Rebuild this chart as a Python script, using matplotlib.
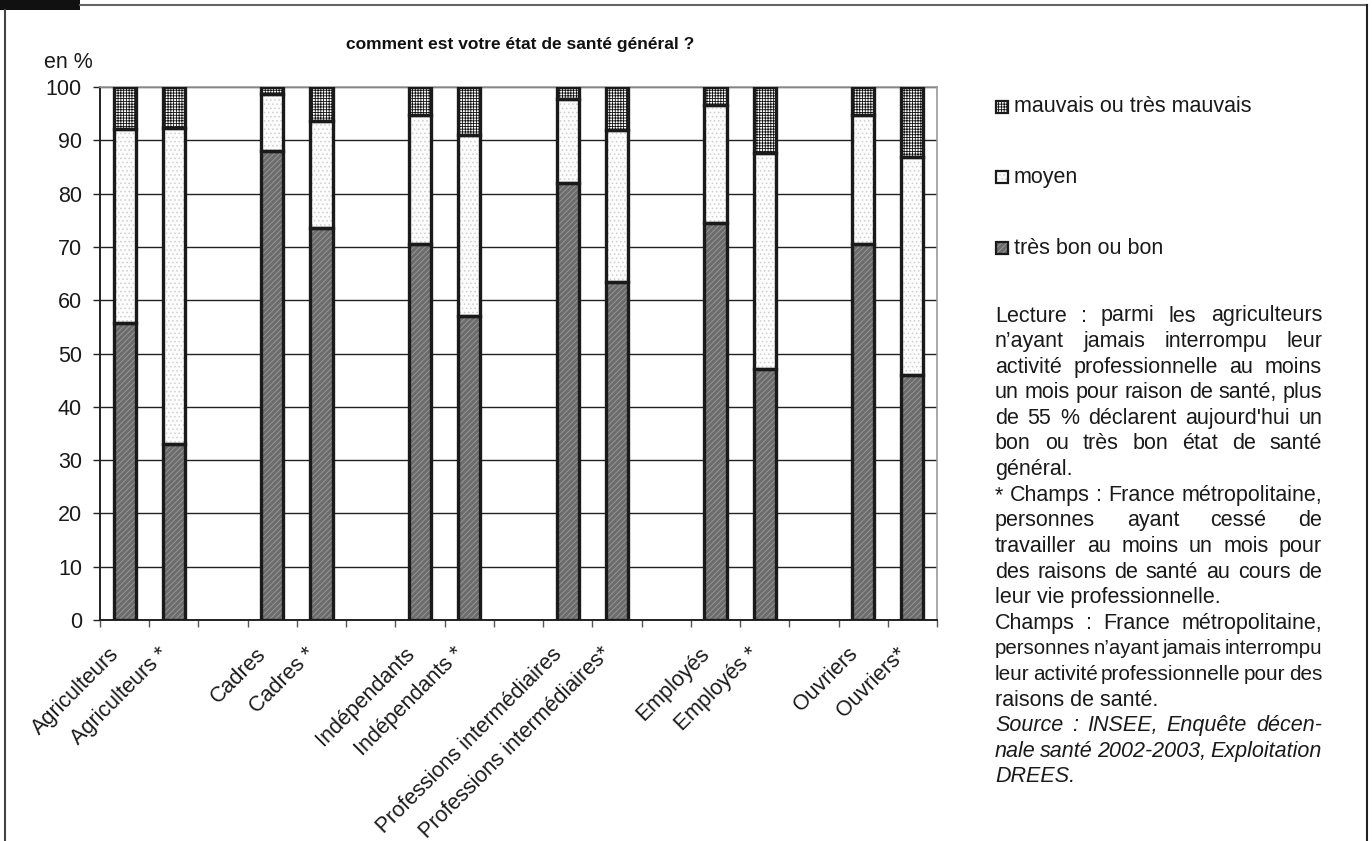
import matplotlib
matplotlib.use("Agg")
import matplotlib.pyplot as plt
from matplotlib.patches import Rectangle
from matplotlib.lines import Line2D
import matplotlib.transforms as mtransforms
import numpy as np

plt.rcParams['font.family'] = ['Liberation Sans', 'DejaVu Sans']

# ---- data -------------------------------------------------------------
categories = ["Agriculteurs", "Agriculteurs *", "Cadres", "Cadres *",
              "Indépendants", "Indépendants *", "Professions intermédiaires",
              "Professions intermédiaires*", "Employés", "Employés *",
              "Ouvriers", "Ouvriers*"]
tres_bon = [55.7, 33.0, 88.0, 73.5, 70.5, 57.0, 82.0, 63.5, 74.5, 47.0, 70.5, 46.0]
moyen = [36.5, 59.3, 10.6, 20.2, 24.2, 34.0, 15.7, 28.4, 22.1, 40.6, 24.2, 40.9]
mauvais = [7.8, 7.7, 1.4, 6.3, 5.3, 9.0, 2.3, 8.1, 3.4, 12.4, 5.3, 13.1]
yticks = [0, 10, 20, 30, 40, 50, 60, 70, 80, 90, 100]
legend_labels = ["mauvais ou très mauvais", "moyen", "très bon ou bon"]
title = "comment est votre état de santé général ?"

note_lines = [
    ("Lecture : parmi les agriculteurs", True, False),
    ("n’ayant jamais interrompu leur", True, False),
    ("activité professionnelle au moins", True, False),
    ("un mois pour raison de santé, plus", True, False),
    ("de 55 % déclarent aujourd'hui un", True, False),
    ("bon ou très bon état de santé", True, False),
    ("général.", False, False),
    ("* Champs :  France métropolitaine,", True, False),
    ("personnes ayant cessé de", True, False),
    ("travailler au moins un mois pour", True, False),
    ("des raisons de santé au cours de", True, False),
    ("leur vie professionnelle.", False, False),
    ("Champs : France métropolitaine,", True, False),
    ("personnes n’ayant jamais interrompu", True, False),
    ("leur activité professionnelle pour des", True, False),
    ("raisons de santé.", False, False),
    ("Source : INSEE, Enquête décen-", True, True),
    ("nale santé 2002-2003, Exploitation", True, True),
    ("DREES.", False, True),
]

# ---- figure -----------------------------------------------------------
W, H = 1372, 841
fig = plt.figure(figsize=(W / 100, H / 100), dpi=100)
FS = 15.5
TXT = '#1a1a1a'


def fx(x):
    return x / W


def fy(y):
    return 1 - y / H


# outer frame
fig.add_artist(Rectangle((0, fy(10)), fx(80), 10 / H, transform=fig.transFigure,
                         facecolor='#111111', edgecolor='none'))
fig.add_artist(Line2D([fx(80), fx(1367)], [fy(5), fy(5)], transform=fig.transFigure,
                      color='#666666', lw=1.5))
fig.add_artist(Line2D([fx(5), fx(5)], [fy(10), 0], transform=fig.transFigure,
                      color='#444444', lw=1.5))
fig.add_artist(Line2D([fx(1367), fx(1367)], [fy(5), 0], transform=fig.transFigure,
                      color='#222222', lw=1.5))

ax = fig.add_axes([fx(100), fy(620), fx(937) - fx(100), (620 - 87) / H])

# slot positions: two bars per group then an empty slot
n_slots = 17
pos = np.array([3 * (i // 2) + (i % 2) + 0.5 for i in range(len(categories))])
width = 0.45

plt.rcParams['hatch.linewidth'] = 0.6
styles = [
    # (name, face, hatch, hatch colour)
    ('bon', '#6c6c6c', '//////', '#9c9c9c'),
    ('moy', '#fcfcfc', '....', '#cfcfcf'),
    ('mau', '#ffffff', '++++++', '#111111'),
]
bon = np.array(tres_bon)
moy = np.array(moyen)
mau = np.array(mauvais)
segments = [(bon, np.zeros_like(bon)), (moy, bon), (mau, bon + moy)]

for (vals, bottoms), (_, face, hatch, hcol) in zip(segments, styles):
    ax.bar(pos, vals, width, bottom=bottoms, color=face, hatch=hatch,
           edgecolor=hcol, linewidth=0, zorder=3)
    ax.bar(pos, vals, width, bottom=bottoms, fill=False,
           edgecolor='#1a1a1a', linewidth=2.4, zorder=4)

ax.set_xlim(0, n_slots)
ax.set_ylim(0, 100)
ax.set_yticks(yticks)
ax.set_yticklabels([str(v) for v in yticks], fontsize=FS)
ax.yaxis.grid(True, color='#222222', linewidth=1.0, zorder=0)
ax.set_axisbelow(True)
ax.set_xticks(np.arange(0, n_slots + 1))
ax.set_xticklabels([])
ax.tick_params(axis='x', direction='out', length=5, width=1, color='#555555')
ax.tick_params(axis='y', direction='out', length=5, width=1, pad=8,
               color='#222222', labelcolor=TXT)
for side in ('left', 'bottom'):
    ax.spines[side].set_color('#222222')
    ax.spines[side].set_linewidth(1.4)
for side in ('top', 'right'):
    ax.spines[side].set_color('#999999')
    ax.spines[side].set_linewidth(1.2)

# rotated category labels
trans = mtransforms.blended_transform_factory(ax.transData, ax.transAxes)
off = mtransforms.ScaledTranslation(-9 / 100, -31 / 100, fig.dpi_scale_trans)
for p, lab in zip(pos, categories):
    ax.text(p, 0, lab, transform=trans + off, rotation=45, rotation_mode='anchor',
            ha='right', va='center', fontsize=FS, color=TXT)

fig.text(fx(68), fy(62), "en %", fontsize=FS, ha='center', va='center', color=TXT)
fig.text(fx(520), fy(45), title, fontsize=12.5, fontweight='bold', ha='center',
         va='center', color='#111111')

# legend
leg_y = [107, 177, 248]
for (_, face, hatch, hcol), yy, lab in zip(styles[::-1], leg_y, legend_labels):
    fig.add_artist(Rectangle((fx(996), fy(yy + 6)), 12 / W, 12 / H,
                             transform=fig.transFigure, facecolor=face, hatch=hatch,
                             edgecolor=hcol, linewidth=0))
    fig.add_artist(Rectangle((fx(996), fy(yy + 6)), 12 / W, 12 / H,
                             transform=fig.transFigure, fill=False,
                             edgecolor='#1a1a1a', linewidth=1.6))
    fig.text(fx(1014), fy(yy), lab, fontsize=FS, ha='left', va='center', color=TXT)

# justified notes
renderer = fig.canvas.get_renderer()
x_left, x_right = 995, 1322
y0, dy = 316, 25.6
min_gap = 3.5


def word_widths(words, size, style):
    out = []
    for w in words:
        t = fig.text(0, 0, w, fontsize=size, style=style)
        out.append(t.get_window_extent(renderer).width)
        t.remove()
    return out


for i, (line, justify, italic) in enumerate(note_lines):
    y = fy(y0 + i * dy)
    style = 'italic' if italic else 'normal'
    if not justify:
        fig.text(fx(x_left), y, line, fontsize=FS, style=style, ha='left',
                 va='center', color=TXT)
        continue
    words = line.split()
    size = FS
    widths = word_widths(words, size, style)
    avail = x_right - x_left - (len(words) - 1) * min_gap
    if sum(widths) > avail:
        # condense a line that is too long for the column
        size = FS * avail / sum(widths)
        widths = word_widths(words, size, style)
    gap = (x_right - x_left - sum(widths)) / max(len(words) - 1, 1)
    x = x_left
    for w, wd in zip(words, widths):
        fig.text(fx(x), y, w, fontsize=size, style=style, ha='left', va='center',
                 color=TXT)
        x += wd + gap

fig.savefig("out.png", dpi=100)
